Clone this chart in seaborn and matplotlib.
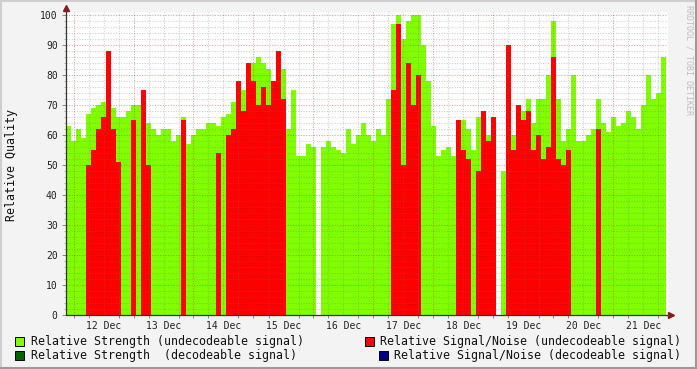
import numpy as np
import pandas as pd
import matplotlib
matplotlib.use("Agg")
import matplotlib.pyplot as plt
import seaborn as sns
from matplotlib.patches import Rectangle
from matplotlib.lines import Line2D

# ---------------- data ----------------
# bin centres: hours after 12 Dec 00:00 (2-hour bins)
hours = list(range(-2, 238, 2))

strength = [
    63, 58, 62, 59, 67, 69, 70, 71, 72, 69, 66, 66, 68, 70, 70, 68, 64, 62, 60, 62,
    62, 58, 60, 66, 57, 60, 62, 62, 64, 64, 63, 66, 67, 71, 74, 75, 79, 84, 86, 84,
    82, 78, 85, 82, 62, 75, 53, 53, 57, 56, 0, 56, 58, 56, 55, 54, 62, 57, 60, 64,
    60, 58, 62, 60, 72, 97, 100, 92, 98, 100, 100, 90, 78, 63, 53, 55, 56, 53, 62, 65,
    62, 55, 66, 68, 60, 62, 0, 48, 52, 60, 64, 68, 72, 64, 72, 72, 80, 98, 72, 58,
    62, 80, 58, 58, 60, 62, 72, 64, 61, 66, 63, 64, 68, 66, 62, 70, 80, 72, 74, 86,
]

snr = [
    0, 0, 0, 0, 50, 55, 62, 66, 88, 62, 51, 0, 0, 65, 0, 75, 50, 0, 0, 0,
    0, 0, 0, 65, 0, 0, 0, 0, 0, 0, 54, 0, 60, 62, 78, 68, 84, 78, 70, 76,
    70, 78, 88, 72, 0, 0, 0, 0, 0, 0, 0, 0, 0, 0, 0, 0, 0, 0, 0, 0,
    0, 0, 0, 0, 0, 75, 97, 50, 84, 70, 80, 0, 0, 0, 0, 0, 0, 0, 65, 55,
    52, 0, 48, 68, 58, 66, 0, 0, 90, 55, 70, 65, 68, 55, 60, 52, 56, 86, 52, 50,
    55, 0, 0, 0, 0, 0, 62, 0, 0, 0, 0, 0, 0, 0, 0, 0, 0, 0, 0, 0,
]

day_labels = ["12 Dec", "13 Dec", "14 Dec", "15 Dec", "16 Dec",
              "17 Dec", "18 Dec", "19 Dec", "20 Dec", "21 Dec"]

legend_labels = ["Relative Strength (undecodeable signal)",
                 "Relative Signal/Noise (undecodeable signal)",
                 "Relative Strength  (decodeable signal)",
                 "Relative Signal/Noise (decodeable signal)"]
legend_colors = ["#7FFF00", "#FF0000", "#006400", "#00008B"]

# ---------------- figure ----------------
sns.set_theme(style="white")
plt.rcParams['font.family'] = ['DejaVu Sans Mono', 'DejaVu Sans']

W, H = 697, 369
fig = plt.figure(figsize=(W / 100, H / 100), dpi=100, facecolor="#F3F3F3")
L, R, T, B = 66, 668, 12, 315
ax = fig.add_axes([L / W, 1 - B / H, (R - L) / W, (B - T) / H])
ax.set_facecolor("white")

df = pd.DataFrame({"hour": hours, "strength": strength, "snr": snr})
sns.histplot(data=df, x="hour", weights="strength", binwidth=2, binrange=(-3, 237),
             color="#7FFF00", alpha=1, linewidth=0, ax=ax, zorder=2)
sns.histplot(data=df, x="hour", weights="snr", binwidth=2, binrange=(-3, 237),
             color="#FF0000", alpha=1, linewidth=0, ax=ax, zorder=3)

xmin = -3
xmax = xmin + (R - L) / 2.5
ax.set_xlim(xmin, xmax)
ax.set_ylim(0, 101)

# grid on top of the data
minor_c = (0.45, 0.45, 0.45, 0.35)
major_c = (0.8, 0.15, 0.15, 0.45)
for h in range(0, 240, 6):
    ax.axvline(h, color=major_c if h % 24 == 0 else minor_c, lw=0.75,
               ls=(0, (1, 1.5)), zorder=4)
for v in range(2, 101, 2):
    ax.axhline(v, color=major_c if v % 10 == 0 else minor_c, lw=0.75,
               ls=(0, (1, 1.5)), zorder=4)

for s in ax.spines.values():
    s.set_visible(False)

# axes lines + arrows
ax.plot([xmin, xmin], [0, 101.5], color="#333333", lw=0.9, clip_on=False, zorder=6)
ax.plot([xmin, xmax + 0.8], [0, 0], color="#333333", lw=0.9, clip_on=False, zorder=6)
ax.plot([xmin], [102.2], marker="^", color="#8B1A1A", markersize=4, clip_on=False, zorder=7)
ax.plot([xmax + 1.3], [0], marker=">", color="#8B1A1A", markersize=4, clip_on=False, zorder=7)

# ticks
ax.set_xticks([12 + 24 * k for k in range(len(day_labels))])
ax.set_xticklabels(day_labels)
ax.set_xticks(list(range(0, 240, 6)), minor=True)
ax.set_yticks(list(range(0, 101, 10)))
ax.set_yticklabels([str(v) for v in range(0, 101, 10)])
ax.set_yticks(list(range(0, 101, 2)), minor=True)
ax.tick_params(axis="x", which="major", length=0, pad=4, labelsize=7, labelcolor="#222222")
ax.tick_params(axis="x", which="minor", length=2, width=0.6, color="#777777", bottom=True)
ax.tick_params(axis="y", which="major", length=3, width=0.6, color="#777777", pad=3,
               labelsize=7, labelcolor="#222222", left=True)
ax.tick_params(axis="y", which="minor", length=1.5, width=0.5, color="#999999", left=True)
ax.set_xlabel("")
ax.set_ylabel("")

fig.text(12 / W, 1 - 165 / H, "Relative Quality", rotation=90, ha="center",
         va="center", fontsize=8.4, color="#111111")

fig.text(689 / W, 1 - 5 / H, "RRDTOOL / TOBI OETIKER", rotation=270, ha="center",
         va="top", fontsize=6, color="#BDBDBD")

# legend
legend_pos = [(15, 341, 30.5), (365, 341, 380.5), (15, 355, 30.5), (379, 355, 394.5)]
for (bx, yc, tx), lab, col in zip(legend_pos, legend_labels, legend_colors):
    fig.patches.append(Rectangle((bx / W, 1 - (yc + 4.5) / H), 9 / W, 9 / H,
                                 transform=fig.transFigure, facecolor=col,
                                 edgecolor="black", lw=0.7))
    fig.text(tx / W, 1 - yc / H, lab, ha="left", va="center", fontsize=8.4,
             color="#111111")

# figure frame
fig.add_artist(Line2D([0, 1], [1 - 1 / H, 1 - 1 / H], transform=fig.transFigure,
                      color="#CFCFCF", lw=1.5))
fig.add_artist(Line2D([1 / W, 1 / W], [0, 1], transform=fig.transFigure,
                      color="#CFCFCF", lw=1.5))
fig.add_artist(Line2D([0, 1], [1 / H, 1 / H], transform=fig.transFigure,
                      color="#9A9A9A", lw=1.5))
fig.add_artist(Line2D([1 - 1 / W, 1 - 1 / W], [0, 1], transform=fig.transFigure,
                      color="#9A9A9A", lw=1.5))

fig.savefig("out.png", dpi=100, facecolor=fig.get_facecolor())
